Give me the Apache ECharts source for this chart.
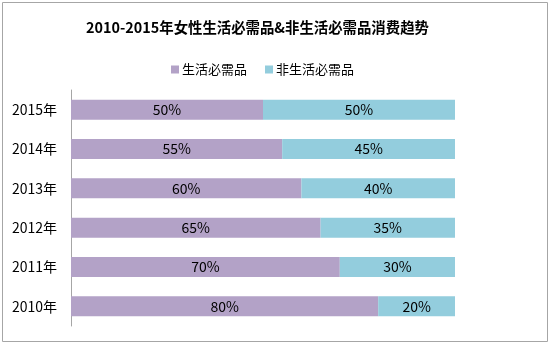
<!DOCTYPE html>
<html>
<head>
<meta charset="utf-8">
<script src="https://cdn.jsdelivr.net/npm/echarts@6/dist/echarts.min.js"></script>
<style>
html,body{margin:0;padding:0;background:#fff;}
#chart{width:550px;height:362px;}
</style>
</head>
<body>
<div id="chart"></div>
<script>
const categories = ['2010年', '2011年', '2012年', '2013年', '2014年', '2015年'];
const necessities = [80, 70, 65, 60, 55, 50];
const nonNecessities = [20, 30, 35, 40, 45, 50];
const seriesNames = ['生活必需品', '非生活必需品'];
const titleText = '2010-2015年女性生活必需品&非生活必需品消费趋势';

const font = '"Noto Sans CJK SC", "Noto Sans", sans-serif';
const chart = echarts.init(document.getElementById('chart'), null, {renderer: 'canvas'});
chart.setOption({
  animation: false,
  backgroundColor: '#fff',
  graphic: [{
    type: 'rect',
    shape: {x: 2.5, y: 2.5, width: 545, height: 339},
    style: {fill: 'none', stroke: '#a6a6a6', lineWidth: 1},
    silent: true, z: -1
  }],
  title: {
    text: titleText,
    left: 81,
    top: 15,
    textStyle: {fontFamily: font, fontSize: 14.4, fontWeight: 'bold', color: '#000'}
  },
  legend: {
    top: 58,
    left: 166,
    itemWidth: 8,
    itemHeight: 8,
    itemGap: 18,
    icon: 'rect',
    textStyle: {fontFamily: font, fontSize: 13, color: '#000', padding: [0, 0, 0, -2]},
    data: seriesNames
  },
  grid: {left: 71, right: 95, top: 90, bottom: 36, containLabel: false},
  xAxis: {
    type: 'value', min: 0, max: 100, show: false
  },
  yAxis: {
    type: 'category',
    data: categories,
    axisLine: {show: true, lineStyle: {color: '#a6a6a6', width: 1}},
    axisTick: {show: false},
    axisLabel: {fontFamily: font, fontSize: 14, color: '#000', margin: 14}
  },
  series: [
    {
      name: seriesNames[0], type: 'bar', stack: 'total', data: necessities,
      barWidth: '51%',
      itemStyle: {color: '#b3a2c7'},
      label: {show: true, position: 'inside', formatter: '{c}%', fontFamily: font, fontSize: 14, color: '#000'}
    },
    {
      name: seriesNames[1], type: 'bar', stack: 'total', data: nonNecessities,
      barWidth: '51%',
      itemStyle: {color: '#93cddd'},
      label: {show: true, position: 'inside', formatter: '{c}%', fontFamily: font, fontSize: 14, color: '#000'}
    }
  ]
});
</script>
</body>
</html>
